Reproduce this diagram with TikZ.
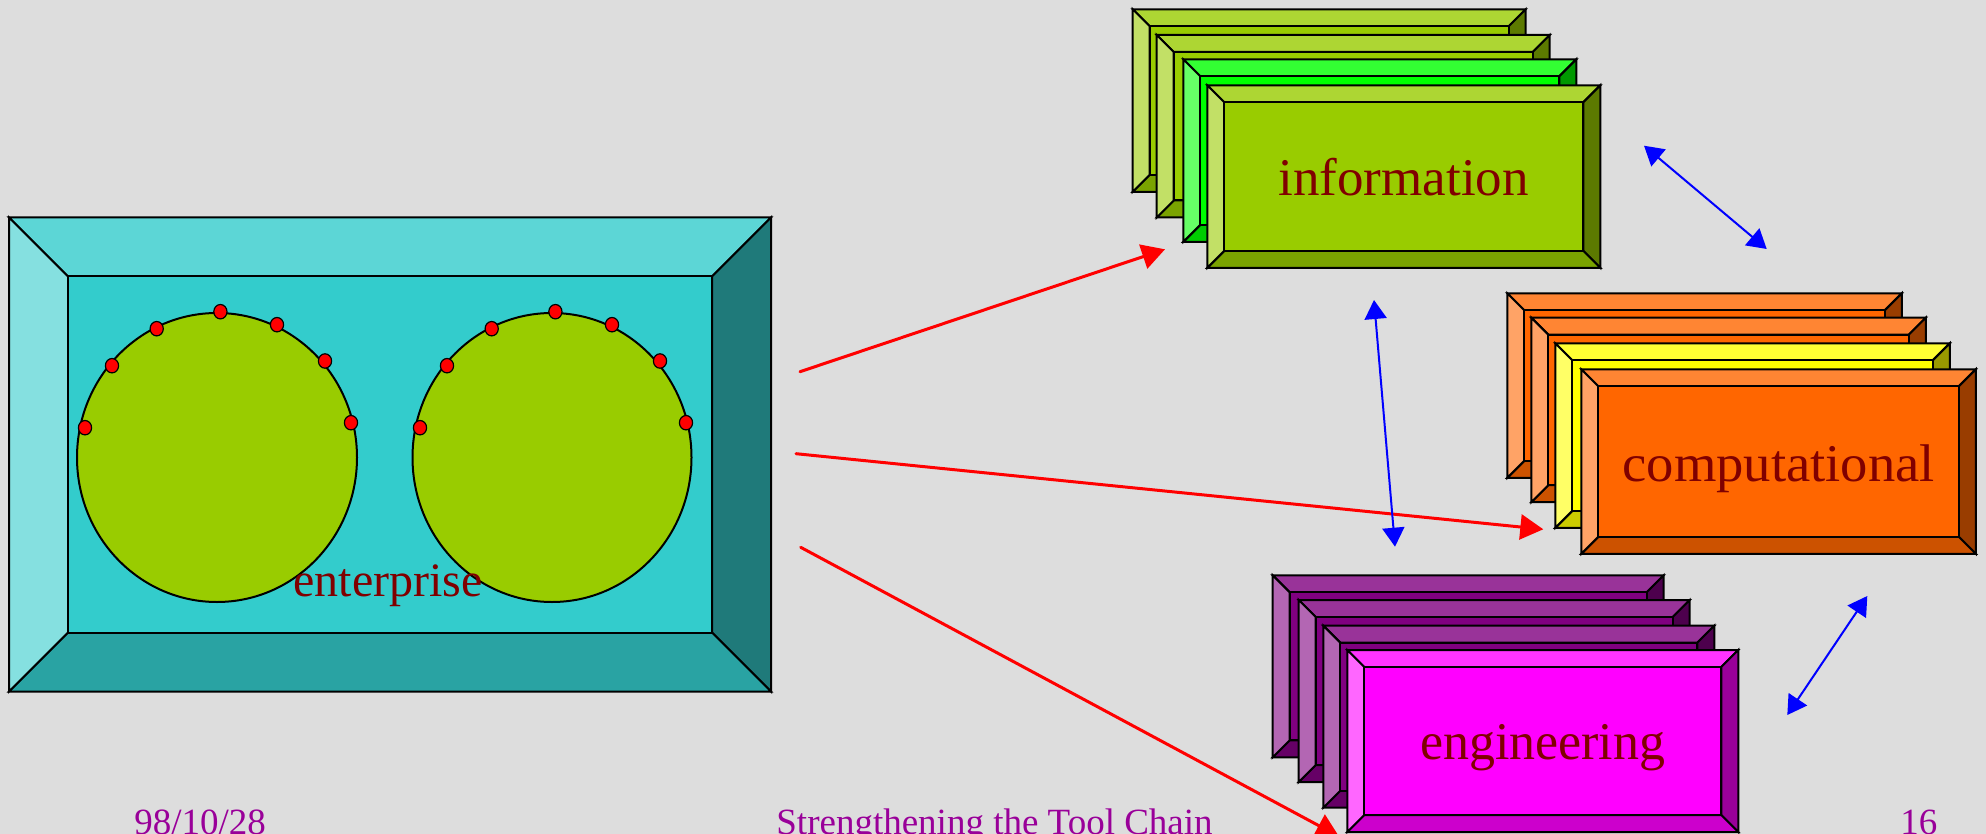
\documentclass[tikz,border=0pt]{standalone}
\usepackage{fontspec}
\setmainfont{Liberation Serif}
\usepackage{graphicx}
\usetikzlibrary{arrows.meta}

\definecolor{cBg}{HTML}{DDDDDD}
\definecolor{cLeaf}{HTML}{99CC00}
\definecolor{cGreen}{HTML}{00FF00}
\definecolor{cOrange}{HTML}{FF6600}
\definecolor{cYellow}{HTML}{FFFF00}
\definecolor{cPlum}{HTML}{800080}
\definecolor{cMagenta}{HTML}{FF00FF}
\definecolor{cCyan}{HTML}{33CCCC}
\definecolor{cLabel}{HTML}{800000}
\definecolor{cFoot}{HTML}{990099}
\definecolor{cFlow}{HTML}{FF0000}
\definecolor{cLink}{HTML}{0000FF}

\tikzset{
  facet/.style={draw=black,line width=1pt,line join=miter},
  label text/.style={text=cLabel,font=\fontsize{26.5pt}{30pt}\selectfont,inner sep=0pt,anchor=base},
  footer/.style={text=cFoot,font=\fontsize{18.5pt}{22pt}\selectfont,inner sep=0pt,anchor=base west},
  flow/.style={draw=cFlow,line width=1.5pt,line cap=round,-{Triangle[length=11.5pt,width=12.5pt]}},
  link/.style={draw=cLink,line width=1pt,{Triangle[length=9.5pt,width=11pt]}-{Triangle[length=9.5pt,width=11pt]}},
  blob/.style={draw=black,line width=1pt,fill=cLeaf},
  pin/.style={draw=black,line width=0.6pt,fill=red},
}

% bevelled panel: left, top, width, height, bevel, base colour
\newcommand\bevelbox[6]{%
  \pgfmathsetmacro\bxL{#1}\pgfmathsetmacro\bxT{#2}%
  \pgfmathsetmacro\bxR{#1+#3}\pgfmathsetmacro\bxB{#2+#4}%
  \pgfmathsetmacro\bxl{#1+#5}\pgfmathsetmacro\bxt{#2+#5}%
  \pgfmathsetmacro\bxr{#1+#3-#5}\pgfmathsetmacro\bxb{#2+#4-#5}%
  \filldraw[facet,fill=#6!80!white] (\bxL,\bxT) -- (\bxR,\bxT) -- (\bxr,\bxt) -- (\bxl,\bxt) -- cycle;
  \filldraw[facet,fill=#6!60!black] (\bxR,\bxT) -- (\bxR,\bxB) -- (\bxr,\bxb) -- (\bxr,\bxt) -- cycle;
  \filldraw[facet,fill=#6!80!black] (\bxR,\bxB) -- (\bxL,\bxB) -- (\bxl,\bxb) -- (\bxr,\bxb) -- cycle;
  \filldraw[facet,fill=#6!60!white] (\bxL,\bxB) -- (\bxL,\bxT) -- (\bxl,\bxt) -- (\bxl,\bxb) -- cycle;
  \filldraw[facet,fill=#6] (\bxl,\bxt) rectangle (\bxr,\bxb);
}

% ring of pins on an oval, offsets from its centre (y upwards)
\newcommand\pinring[2]{%
  \foreach \dx/\dy in {-132/29.8,-105/91.8,-60.3/128.8,3.4/145.8,60/132.8,108/96.5,134/34.8}{%
    \filldraw[pin] ({#1+\dx},{#2-\dy}) ellipse [x radius=3.3pt,y radius=3.6pt];
  }%
}

\begin{document}
\begin{tikzpicture}[x=0.5pt,y=-0.5pt]
  \useasboundingbox (0,0) rectangle (1986,834);
  \fill[cBg] (0,0) rectangle (1986,834);

  % enterprise panel with two ovals
  \bevelbox{9}{217.5}{762}{474}{59}{cCyan}
  \filldraw[blob] (217,457.5) ellipse [x radius=70pt,y radius=72.25pt];
  \filldraw[blob] (552,457.5) ellipse [x radius=69.75pt,y radius=72.25pt];
  \pinring{217}{457.5}
  \pinring{552}{457.5}
  \node[label text,font=\fontsize{24pt}{28pt}\selectfont] (enterprise) at (388,596.7) {enterprise};

  % information stack
  \bevelbox{1132.7}{9.3}{393}{182.5}{17}{cLeaf}
  \bevelbox{1156.7}{35}{393}{182.5}{17}{cLeaf}
  \bevelbox{1183.3}{59.3}{393}{182.5}{17}{cGreen}
  \bevelbox{1207.3}{85.3}{393}{182.5}{17}{cLeaf}
  \node[label text] (information) at (1403.7,196) {information};

  % computational stack
  \bevelbox{1507.3}{293.3}{394.5}{184.5}{17}{cOrange}
  \bevelbox{1531.3}{317.7}{394.5}{184.5}{17}{cOrange}
  \bevelbox{1555.3}{343.3}{394.5}{184.5}{17}{cYellow}
  \bevelbox{1581.3}{369.3}{394.5}{184.5}{17}{cOrange}
  \node[label text] (computational) at (1778.7,481) {\scalebox{1.03}[1]{computational}};

  % engineering stack
  \bevelbox{1272.7}{575.3}{391}{182}{17}{cPlum}
  \bevelbox{1298.7}{600}{391}{182}{17}{cPlum}
  \bevelbox{1323.3}{625.7}{391}{182}{17}{cPlum}
  \bevelbox{1347.3}{650}{391}{182}{17}{cMagenta}
  \node[label text] (engineering) at (1542.7,759.5) {\scalebox{0.98}[1]{engineering}};

  % connector ends
  \coordinate (f1s) at (800,371.7);
  \coordinate (f1e) at (1165,249.3);
  \coordinate (f2s) at (796,453.7);
  \coordinate (f2e) at (1543.3,529.3);
  \coordinate (f3s) at (800.7,547.3);
  \coordinate (f3e) at (1339,836.5);
  \coordinate (l1a) at (1644,145.7);
  \coordinate (l1b) at (1766.7,249);
  \coordinate (l2a) at (1374,300);
  \coordinate (l2b) at (1395,546.7);
  \coordinate (l3a) at (1867.3,596);
  \coordinate (l3b) at (1787.3,715);

  % flows out of the enterprise view
  \draw[flow] (f1s) -- (f1e);
  \draw[flow] (f2s) -- (f2e);
  \draw[flow] (f3s) -- (f3e);

  % links between the other views
  \draw[link] (l1a) -- (l1b);
  \draw[link] (l2a) -- (l2b);
  \draw[link] (l3a) -- (l3b);

  % footer
  \node[footer] (date) at (134,834) {98/10/28};
  \node[footer] (title) at (776,834) {Strengthening the Tool Chain};
  \node[footer] (page) at (1900,834) {16};
\end{tikzpicture}
\end{document}
